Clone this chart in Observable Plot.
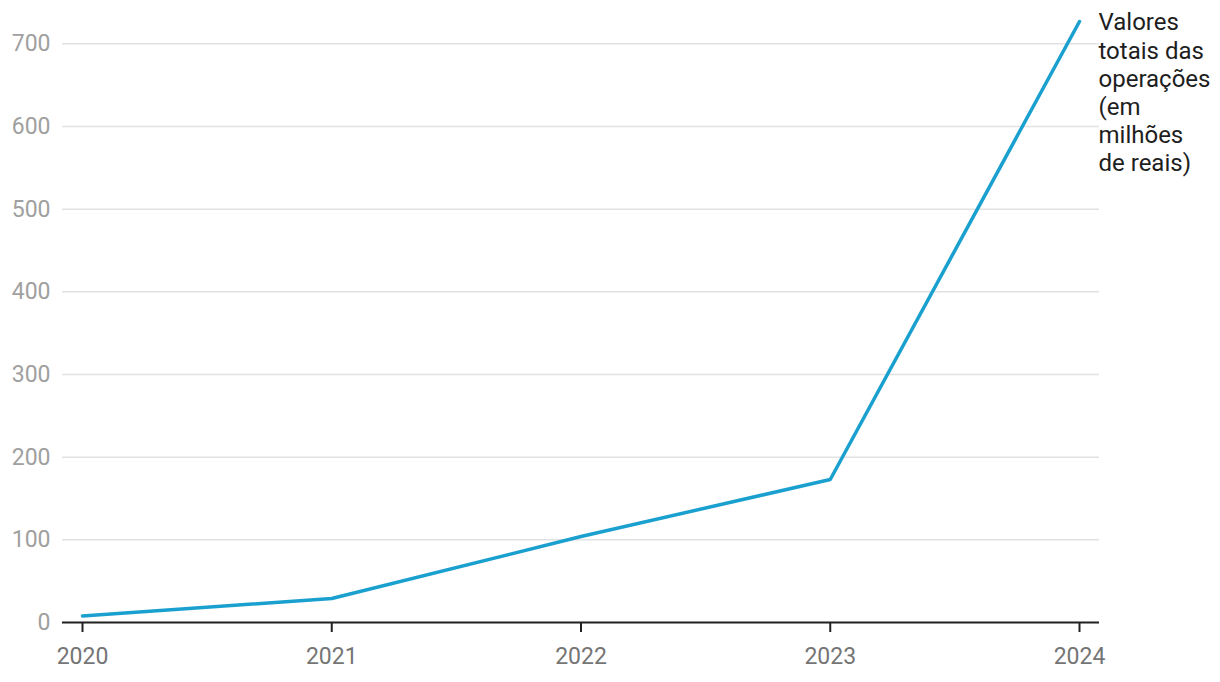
<!DOCTYPE html>
<html>
<head>
<meta charset="utf-8">
<script src="https://cdn.jsdelivr.net/npm/d3@7"></script>
<script src="https://cdn.jsdelivr.net/npm/@observablehq/plot@0.6"></script>
<style>
  html, body { margin: 0; padding: 0; background: #fff; }
  #chart { width: 1220px; height: 682px; }
  svg { font-family: Roboto, sans-serif; }
</style>
</head>
<body>
<div id="chart"></div>
<script>
const years = [2020, 2021, 2022, 2023, 2024];
const values = [8, 29, 104, 173, 727];
const yTicks = [0, 100, 200, 300, 400, 500, 600, 700];
const seriesLabel = "Valores\ntotais das\noperações\n(em\nmilhões\nde reais)";

const data = years.map((year, i) => ({year, value: values[i]}));
const last = data[data.length - 1];

const chart = Plot.plot({
  width: 1220,
  height: 682,
  marginTop: 21,
  marginBottom: 60,
  marginLeft: 62,
  marginRight: 121,
  insetLeft: 20,
  insetRight: 20,
  style: {fontFamily: "Roboto, sans-serif", fontSize: "23px", background: "#fff"},
  x: {type: "linear", domain: [2020, 2024], ticks: years, tickFormat: d => String(d), label: null},
  y: {domain: [0, 727], label: null},
  marks: [
    Plot.gridY(yTicks, {stroke: "#e2e2e2", strokeOpacity: 1, strokeWidth: 1.5}),
    Plot.axisY(yTicks, {tickSize: 0, tickPadding: 12, fill: "#a0a0a0", fontSize: 23, label: null}),
    Plot.axisX(years, {tickSize: 10, tickPadding: 15, stroke: "#222", strokeWidth: 2, fill: "#757575", fontSize: 23, tickFormat: d => String(d), label: null}),
    Plot.ruleY([0], {stroke: "#222", strokeWidth: 2}),
    Plot.line(data, {x: "year", y: "value", stroke: "#1aa0cf", strokeWidth: 3.5}),
    Plot.text([last], {x: "year", y: "value", text: () => seriesLabel, textAnchor: "start", lineAnchor: "top", dx: 19, dy: -11, fill: "#1e1e1e", fontSize: 24, lineHeight: 1.17})
  ]
});
document.getElementById("chart").appendChild(chart);
</script>
</body>
</html>
